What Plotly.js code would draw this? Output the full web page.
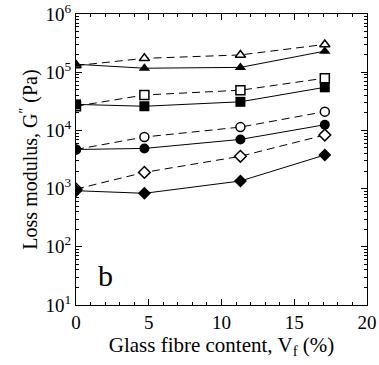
<!DOCTYPE html>
<html><head><meta charset="utf-8">
<script src="https://cdn.plot.ly/plotly-3.0.1.min.js"></script>
<style>body{margin:0;background:#fff}#c{width:379px;height:365px}</style>
</head><body><div id="c"></div>
<script>
const fibre = [0, 4.7, 11.3, 17.1];
const triFilled = [137000, 117000, 121000, 230000];
const triOpen = [130000, 173000, 198000, 300000];
const sqFilled = [28000, 26000, 31000, 55000];
const sqOpen = [26000, 40600, 49000, 79000];
const cirFilled = [4700, 4900, 7000, 12500];
const cirOpen = [4700, 7700, 11400, 21000];
const diaFilled = [920, 830, 1350, 3780];
const diaOpen = [980, 1900, 3590, 8340];
const yTickVals = [10, 100, 1000, 10000, 100000, 1000000];
const yTickText = ['10<sup>1</sup>','10<sup>2</sup>','10<sup>3</sup>','10<sup>4</sup>','10<sup>5</sup>','10<sup>6</sup>'];

function open(y, sym){
  return {x: fibre, y: y, mode:'lines+markers', type:'scatter',
    line:{color:'black', width:1, dash:'8px,5px'},
    marker:{symbol:sym, size:9, color:'white', line:{color:'black', width:1.5}}};
}
function filled(y, sym){
  return {x: fibre, y: y, mode:'lines+markers', type:'scatter',
    line:{color:'black', width:1},
    marker:{symbol:sym, size:10, color:'black'}};
}
const data = [
  open(triOpen,'triangle-up'), open(sqOpen,'square'), open(cirOpen,'circle'), open(diaOpen,'diamond'),
  filled(triFilled,'triangle-up'), filled(sqFilled,'square'), filled(cirFilled,'circle'), filled(diaFilled,'diamond')
];
const font = {family:'Liberation Serif, Times New Roman, serif', color:'black'};
const layout = {
  width:379, height:365, showlegend:false,
  margin:{l:76, r:12, t:14, b:60},
  paper_bgcolor:'white', plot_bgcolor:'white',
  font: Object.assign({size:19}, font),
  xaxis:{range:[0,20], tickvals:[0,5,10,15,20], ticks:'inside', ticklen:6, tickcolor:'black',
    mirror:'ticks', showline:true, linecolor:'black', linewidth:1, showgrid:false, zeroline:false,
    minor:{dtick:1, ticks:'inside', ticklen:3, tickcolor:'black'},
    tickfont:Object.assign({size:19}, font),
    title:{text:'Glass fibre content, V<sub>f</sub> (%)', font:Object.assign({size:21}, font), standoff:4}},
  yaxis:{type:'log', range:[1,6], tickvals:yTickVals, ticktext:yTickText, ticks:'inside', ticklen:6, tickcolor:'black',
    mirror:'ticks', showline:true, linecolor:'black', linewidth:1, showgrid:false, zeroline:false,
    minor:{dtick:'D1', ticks:'inside', ticklen:3, tickcolor:'black', showgrid:false},
    tickfont:Object.assign({size:19}, font),
    title:{text:'Loss modulus, G<sup>\u2033</sup> (Pa)', font:Object.assign({size:20}, font), standoff:2}},
  annotations:[{x:0.1, y:0.1, xref:'paper', yref:'paper', text:'b', showarrow:false,
    font:Object.assign({size:30}, font), xanchor:'center', yanchor:'middle'}]
};
Plotly.newPlot('c', data, layout, {displayModeBar:false, staticPlot:true});
</script></body></html>
